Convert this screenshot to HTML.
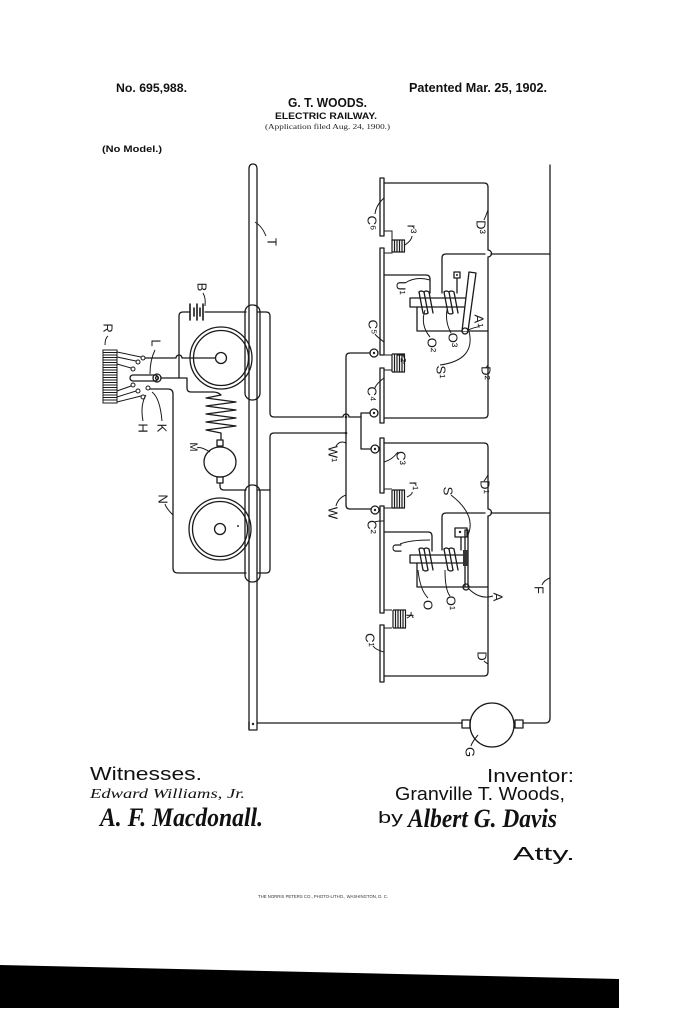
<!DOCTYPE html>
<html><head><meta charset="utf-8"><style>
html,body{margin:0;padding:0;background:#fff;}
svg{display:block;}
.w{fill:none;stroke:#1a1a1a;stroke-width:1.3;stroke-linecap:round;stroke-linejoin:round;}
.t{fill:none;stroke:#1a1a1a;stroke-width:1;}
.lb{font-family:"Liberation Sans",sans-serif;font-size:13px;fill:#1a1a1a;}
.hd{font-family:"Liberation Sans",sans-serif;font-weight:bold;fill:#111;}
</style></head><body>
<svg width="697" height="1023" viewBox="0 0 697 1023" xmlns="http://www.w3.org/2000/svg">
<rect width="697" height="1023" fill="#fff"/>

<!-- header -->
<text class="hd" x="116" y="92" font-size="12" textLength="71" lengthAdjust="spacingAndGlyphs">No. 695,988.</text>
<text class="hd" x="409" y="92" font-size="12.5" textLength="138" lengthAdjust="spacingAndGlyphs">Patented Mar. 25, 1902.</text>
<text class="hd" x="288" y="107" font-size="12.5" textLength="79" lengthAdjust="spacingAndGlyphs">G. T. WOODS.</text>
<text class="hd" x="275" y="119" font-size="9.5" textLength="102" lengthAdjust="spacingAndGlyphs">ELECTRIC RAILWAY.</text>
<text x="265" y="129" font-family="Liberation Serif,serif" font-size="7.5" fill="#222" textLength="125" lengthAdjust="spacingAndGlyphs">(Application filed Aug. 24, 1900.)</text>
<text class="hd" x="102" y="152" font-size="9" textLength="60" lengthAdjust="spacingAndGlyphs">(No Model.)</text>

<!-- wheels -->
<g class="w">
<circle cx="221" cy="358" r="31"/><circle cx="221" cy="358" r="27.5"/><circle cx="221" cy="358" r="5.5"/>
<circle cx="220" cy="529" r="31"/><circle cx="220" cy="529" r="27.5"/><circle cx="220" cy="529" r="5.5"/>
</g>
<circle cx="238" cy="526" r="1" fill="#333"/>

<!-- rail bulges -->
<rect x="245" y="305" width="15" height="95" rx="7" fill="#fff" class="w"/>
<rect x="245" y="485" width="15" height="97" rx="7" fill="#fff" class="w"/>
<!-- rail T -->
<path class="w" d="M249,729 V169 Q249,164 253,164 Q257,164 257,169 V729"/>
<path class="w" d="M249,722 V730 H257"/>
<circle cx="253" cy="724" r="1.2" fill="#222"/>

<!-- battery B -->
<g class="w">
<path d="M179,378 V316 Q179,312 183,312 H189"/>
<path d="M205,312 H246"/>
<path d="M190,304 V320 M194,308 V316 M197,304 V320 M200,308 V316 M203,304 V320" stroke-width="1.6"/>
</g>

<!-- rheostat R -->
<g class="t">
<rect x="103" y="350" width="14" height="53"/>
<path d="M103,352.5H117 M103,355H117 M103,357.5H117 M103,360H117 M103,362.5H117 M103,365H117 M103,367.5H117 M103,370H117 M103,372.5H117 M103,375H117 M103,377.5H117 M103,380H117 M103,382.5H117 M103,385H117 M103,387.5H117 M103,390H117 M103,392.5H117 M103,395H117 M103,397.5H117 M103,400H117"/>
<path d="M117,352 L141,357 M117,357 L136,361 M117,364 L131,368 M117,391 L131,386 M117,397 L136,391 M117,402 L141,396"/>
</g>
<g class="t" fill="#fff">
<circle cx="143" cy="358" r="2"/><circle cx="138" cy="362" r="2"/><circle cx="133" cy="369" r="2"/>
<circle cx="133" cy="385" r="2"/><circle cx="138" cy="391" r="2"/><circle cx="143" cy="397" r="2"/>
<circle cx="148" cy="388" r="2"/>
</g>
<!-- lever L -->
<rect x="130" y="375" width="28" height="6" rx="3" fill="#fff" class="w"/>
<circle cx="157" cy="378" r="4" class="w" fill="#fff"/><circle cx="157" cy="378" r="1.5" class="w"/>
<!-- hub line with hop -->
<path class="w" d="M145,358 H176 A3,3 0 0 1 182,358 H215"/>
<!-- lever to field coil -->
<path class="w" d="M161,378 H187 V388 Q187,392 191,392 H213 Q218,392 221,395 L206,398 L236,402 L206,406 L236,410 L206,414 L236,418 L206,422 L236,426 L206,430 L221,433 V440"/>
<!-- motor M -->
<ellipse cx="220" cy="462" rx="16" ry="15" class="w" fill="#fff"/>
<rect x="217" y="440" width="6" height="6" class="w" fill="#fff"/>
<rect x="217" y="477" width="6" height="6" class="w" fill="#fff"/>
<path class="w" d="M220,483 V486 Q220,490 224,490 H246"/>
<!-- N -->
<path class="w" d="M150,389 H168 Q173,389 173,394 V568 Q173,573 178,573 H246"/>

<!-- right of rail wiring -->
<g class="w">
<path d="M258,312 H266 Q270,312 270,316 V413 Q270,417 274,417 H343 A3,3 0 0 1 349,417 H361"/>
<path d="M370,413 H361 V449 H371"/>
<path d="M258,490 H270"/>
<path d="M258,573 H266 Q270,573 270,569 V437 Q270,433 274,433 H346"/>
<path d="M370,353 H350 Q346,353 346,357 V505 Q346,509 350,509 H371"/>
</g>
<circle cx="346" cy="433" r="1.3" fill="#222"/>
<circle cx="346" cy="417" r="1.3" fill="#222"/>

<!-- terminals -->
<g class="w" fill="#fff">
<circle cx="374" cy="353" r="4"/><circle cx="374" cy="413" r="4"/>
<circle cx="375" cy="449" r="4"/><circle cx="375" cy="510" r="4"/>
</g>
<g fill="#222"><circle cx="374" cy="353" r="1.2"/><circle cx="374" cy="413" r="1.2"/><circle cx="375" cy="449" r="1.2"/><circle cx="375" cy="510" r="1.2"/></g>

<!-- contact bars -->
<g class="w" fill="#fff">
<rect x="380" y="178" width="4" height="58"/>
<rect x="380" y="248" width="4" height="107"/>
<rect x="380" y="368" width="4" height="55"/>
<rect x="380" y="438" width="4" height="55"/>
<rect x="380" y="506" width="4" height="107"/>
<rect x="380" y="625" width="4" height="57"/>
</g>

<!-- loops D3/D2 and D1/D -->
<path class="w" d="M384,183 H484 Q488,183 488,187 V250 A3.5,3.5 0 0 1 488,257 V414 Q488,418 484,418 H384"/>
<path class="w" d="M384,443 H484 Q488,443 488,447 V509 A3.5,3.5 0 0 1 488,516 V672 Q488,676 484,676 H384"/>

<!-- long right line F and G -->
<path class="w" d="M550,165 V718 Q550,723 545,723 H523"/>
<path class="w" d="M442,293 V258 Q442,254 446,254 H485 M491,254 H550"/>
<path class="w" d="M442,550 V517 Q442,513 446,513 H485 M491,513 H550"/>
<path class="w" d="M257,723 H462"/>
<circle cx="492" cy="725" r="22" class="w" fill="#fff"/>
<rect x="462" y="720" width="8" height="8" class="w" fill="#fff"/>
<rect x="515" y="720" width="8" height="8" class="w" fill="#fff"/>

<!-- resistors r3 r2 r1 r -->
<g class="t">
<path d="M384,231 H392 V240 M384,253 H392 V252"/>
<path d="M392,240 V252 M394.5,240 V252 M397,240 V252 M399.5,240 V252 M402,240 V252 M404.5,240 V252 M392,240 H405 M392,252 H405" stroke-width="1.2"/>
<path d="M384,355 H392 M384,370 H392"/>
<path d="M392,354 V372 M394.5,354 V372 M397,354 V372 M399.5,354 V372 M402,354 V372 M404.5,354 V372 M392,354 H405 M392,372 H405" stroke-width="1.2"/>
<path d="M384,489 H392 M384,508 H392"/>
<path d="M392,490 V508 M394.5,490 V508 M397,490 V508 M399.5,490 V508 M402,490 V508 M404.5,490 V508 M392,490 H405 M392,508 H405" stroke-width="1.2"/>
<path d="M384,610 H392 M384,628 H392"/>
<path d="M393,610 V628 M395.5,610 V628 M398,610 V628 M400.5,610 V628 M403,610 V628 M405.5,610 V628 M393,610 H406 M393,628 H406" stroke-width="1.2"/>
</g>

<!-- upper relay -->
<g class="w">
<path d="M384,275 H426 Q430,275 430,279 V293"/>
<rect x="410" y="298" width="57" height="9" fill="#fff"/>
<path d="M417,307 V331 H488"/>
<path d="M457,279 V293"/>
<path d="M419,292 L423,313 M424,292 L428,313 M429,292 L433,313 M444,292 L448,313 M449,292 L453,313 M454,292 L458,313"/>
<path d="M419,292 Q421,290 424,292 M424,292 Q426,290 429,292 M423,313 Q426,315 428,313 M444,292 Q446,290 449,292 M449,292 Q451,290 454,292 M448,313 Q451,315 453,313"/>
<path d="M462,331 L469,272 L476,273 L468,331" fill="#fff"/>
</g>
<rect x="454" y="272" width="6" height="6" class="w" fill="#fff"/>
<circle cx="457" cy="275" r="1" fill="#222"/>
<circle cx="465" cy="331" r="3" class="w" fill="#fff"/>

<!-- lower relay -->
<g class="w">
<path d="M384,532 H428 Q432,532 432,536 V551"/>
<rect x="410" y="555" width="55" height="8" fill="#fff"/>
<path d="M417,563 V587 H488"/>
<path d="M461,537 V550"/>
<path d="M419,549 L423,570 M424,549 L428,570 M429,549 L433,570 M444,549 L448,570 M449,549 L453,570 M454,549 L458,570"/>
<path d="M419,549 Q421,547 424,549 M424,549 Q426,547 429,549 M423,570 Q426,572 428,570 M444,549 Q446,547 449,549 M449,549 Q451,547 454,549 M448,570 Q451,572 453,570"/>
<path d="M465,587 V530 H468 V587"/>
</g>
<rect x="463" y="550" width="5" height="16" fill="#333"/>
<rect x="455" y="528" width="12" height="9" class="w" fill="#fff"/>
<circle cx="460" cy="532" r="1.2" fill="#222"/>
<circle cx="466" cy="587" r="3" class="w" fill="#fff"/>

<!-- leaders -->
<g class="t">
<path d="M255,222 Q262,226 266,236"/>
<path d="M205,306 Q206,298 203,293"/>
<path d="M105,345 Q105,338 108,336"/>
<path d="M150,374 Q150,360 155,350"/>
<path d="M146,395 Q140,405 143,421"/>
<path d="M152,392 Q160,398 162,421"/>
<path d="M210,452 Q200,446 197,448"/>
<path d="M173,515 Q166,508 165,504"/>
<path d="M384,198 Q376,205 375,214"/>
<path d="M405,245 Q412,240 412,236"/>
<path d="M488,210 Q485,218 484,220"/>
<path d="M430,280 Q416,276 405,283"/>
<path d="M384,342 Q376,336 375,334"/>
<path d="M425,310 Q420,325 430,337"/>
<path d="M447,310 Q445,322 451,333"/>
<path d="M468,330 Q478,326 480,327"/>
<path d="M469,331 Q476,360 440,365"/>
<path d="M405,362 Q404,360 404,364"/>
<path d="M488,365 Q486,368 486,367"/>
<path d="M384,378 Q376,384 375,388"/>
<path d="M346,443 Q340,440 336,446"/>
<path d="M384,462 Q392,460 398,452"/>
<path d="M407,497 Q413,494 412,492"/>
<path d="M467,537 Q478,516 451,495"/>
<path d="M488,475 Q485,480 484,481"/>
<path d="M346,495 Q338,498 336,506"/>
<path d="M384,521 Q376,521 375,522"/>
<path d="M430,540 Q410,540 400,544"/>
<path d="M418,570 Q420,590 428,598"/>
<path d="M445,570 Q445,590 450,596"/>
<path d="M469,589 Q480,600 493,596"/>
<path d="M407,618 Q412,616 411,612"/>
<path d="M384,652 Q376,650 373,646"/>
<path d="M488,664 Q485,662 484,661"/>
<path d="M550,578 Q544,580 542,585"/>
<path d="M478,735 Q472,742 471,746"/>
</g>

<!-- labels -->
<g class="lb">
<text transform="translate(272,242) rotate(90)" text-anchor="middle" dominant-baseline="central">T</text>
<text transform="translate(202,287) rotate(90)" text-anchor="middle" dominant-baseline="central">B</text>
<text transform="translate(108,328) rotate(90)" text-anchor="middle" dominant-baseline="central">R</text>
<text transform="translate(156,343) rotate(90)" text-anchor="middle" dominant-baseline="central">L</text>
<text transform="translate(143,428) rotate(90)" text-anchor="middle" dominant-baseline="central">H</text>
<text transform="translate(162,428) rotate(90)" text-anchor="middle" dominant-baseline="central">K</text>
<text transform="translate(193,447) rotate(90)" text-anchor="middle" dominant-baseline="central" font-size="11">M</text>
<text transform="translate(163,499) rotate(90)" text-anchor="middle" dominant-baseline="central">N</text>
<text transform="translate(372,223) rotate(90)" text-anchor="middle" dominant-baseline="central">C⁶</text>
<text transform="translate(412,229) rotate(90)" text-anchor="middle" dominant-baseline="central">r³</text>
<text transform="translate(481,227) rotate(90)" text-anchor="middle" dominant-baseline="central">D³</text>
<text transform="translate(401,288) rotate(90)" text-anchor="middle" dominant-baseline="central">U¹</text>
<text transform="translate(373,327) rotate(90)" text-anchor="middle" dominant-baseline="central">C⁵</text>
<text transform="translate(432,345) rotate(90)" text-anchor="middle" dominant-baseline="central">O²</text>
<text transform="translate(453,340) rotate(90)" text-anchor="middle" dominant-baseline="central">O³</text>
<text transform="translate(479,321) rotate(90)" text-anchor="middle" dominant-baseline="central">A¹</text>
<text transform="translate(402,358) rotate(90)" text-anchor="middle" dominant-baseline="central">r²</text>
<text transform="translate(441,372) rotate(90)" text-anchor="middle" dominant-baseline="central">S¹</text>
<text transform="translate(486,373) rotate(90)" text-anchor="middle" dominant-baseline="central">D²</text>
<text transform="translate(372,394) rotate(90)" text-anchor="middle" dominant-baseline="central">C⁴</text>
<text transform="translate(333,454) rotate(90)" text-anchor="middle" dominant-baseline="central">W¹</text>
<text transform="translate(401,458) rotate(90)" text-anchor="middle" dominant-baseline="central">C³</text>
<text transform="translate(414,486) rotate(90)" text-anchor="middle" dominant-baseline="central">r¹</text>
<text transform="translate(448,491) rotate(90)" text-anchor="middle" dominant-baseline="central">S</text>
<text transform="translate(485,487) rotate(90)" text-anchor="middle" dominant-baseline="central">D¹</text>
<text transform="translate(333,513) rotate(90)" text-anchor="middle" dominant-baseline="central">W</text>
<text transform="translate(372,527) rotate(90)" text-anchor="middle" dominant-baseline="central">C²</text>
<text transform="translate(397,548) rotate(90)" text-anchor="middle" dominant-baseline="central">U</text>
<text transform="translate(428,605) rotate(90)" text-anchor="middle" dominant-baseline="central">O</text>
<text transform="translate(451,603) rotate(90)" text-anchor="middle" dominant-baseline="central">O¹</text>
<text transform="translate(498,597) rotate(90)" text-anchor="middle" dominant-baseline="central">A</text>
<text transform="translate(411,616) rotate(90)" text-anchor="middle" dominant-baseline="central">r</text>
<text transform="translate(370,640) rotate(90)" text-anchor="middle" dominant-baseline="central">C¹</text>
<text transform="translate(482,656) rotate(90)" text-anchor="middle" dominant-baseline="central">D</text>
<text transform="translate(539,590) rotate(90)" text-anchor="middle" dominant-baseline="central">F</text>
<text transform="translate(470,752) rotate(90)" text-anchor="middle" dominant-baseline="central">G</text>
</g>

<!-- signatures -->
<text x="90" y="780" font-family="Liberation Sans,sans-serif" font-size="18" fill="#111" textLength="112" lengthAdjust="spacingAndGlyphs">Witnesses.</text>
<text x="90" y="798" font-family="Liberation Serif,serif" font-style="italic" font-size="14" fill="#111" textLength="155" lengthAdjust="spacingAndGlyphs">Edward Williams, Jr.</text>
<text x="100" y="826" font-family="Liberation Serif,serif" font-style="italic" font-weight="bold" font-size="26" fill="#111" textLength="163" lengthAdjust="spacingAndGlyphs">A. F. Macdonall.</text>
<text x="487" y="782" font-family="Liberation Sans,sans-serif" font-size="18" fill="#111" textLength="87" lengthAdjust="spacingAndGlyphs">Inventor:</text>
<text x="395" y="800" font-family="Liberation Sans,sans-serif" font-size="18" fill="#111" textLength="170" lengthAdjust="spacingAndGlyphs">Granville T. Woods,</text>
<text x="378" y="823" font-family="Liberation Sans,sans-serif" font-size="17" fill="#111" textLength="25" lengthAdjust="spacingAndGlyphs">by</text>
<text x="408" y="827" font-family="Liberation Serif,serif" font-style="italic" font-weight="bold" font-size="26" fill="#111" textLength="149" lengthAdjust="spacingAndGlyphs">Albert G. Davis</text>
<text x="513" y="860" font-family="Liberation Sans,sans-serif" font-size="18" fill="#111" textLength="62" lengthAdjust="spacingAndGlyphs">Atty.</text>
<text x="258" y="898" font-family="Liberation Sans,sans-serif" font-size="4.5" fill="#333" textLength="130" lengthAdjust="spacingAndGlyphs">THE NORRIS PETERS CO., PHOTO-LITHO., WASHINGTON, D. C.</text>

<!-- bottom black bar -->
<polygon points="0,965 619,979 619,1008 0,1008" fill="#000"/>
</svg>
</body></html>
